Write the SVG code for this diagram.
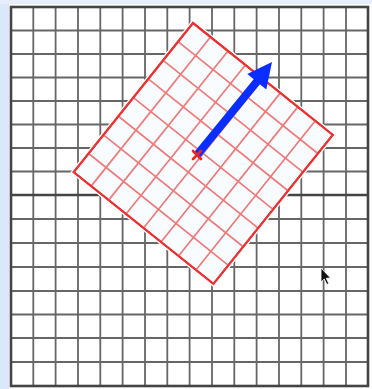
<svg xmlns="http://www.w3.org/2000/svg" width="372" height="389" viewBox="0 0 372 389">
  <style>
    .g { stroke: #666666; stroke-width: 1.8; fill: none; }
    .gb { stroke: #444444; stroke-width: 2.6; fill: none; }
    .r { stroke: #f07a7a; stroke-width: 1.7; fill: none; }
    .rb { stroke: #ee3030; stroke-width: 2; fill: #f9fcfe; }
  </style>
  <rect x="0" y="0" width="372" height="389" fill="#ffffff"/>
  <rect x="0" y="0" width="9" height="389" fill="#dbe7fb"/>
  <rect x="0" y="0" width="372" height="4" fill="#e6eefb"/>
  <g id="background-grid">
    <path class="g" d="M33.3 7V386M55.6 7V386M78 7V386M100.3 7V386M122.6 7V386M145 7V386M167.3 7V386M189.6 7V386M212 7V386M234.3 7V386M256.6 7V386M279 7V386M301.3 7V386M323.6 7V386M346 7V386"/>
    <path class="g" d="M11 30.5H368M11 54H368M11 77.5H368M11 101H368M11 124.5H368M11 148H368M11 171.5H368M11 219H368M11 243H368M11 267H368M11 291H368M11 314.5H368M11 338H368M11 362H368"/>
    <path class="gb" d="M11 195H368"/>
    <rect class="gb" x="11" y="7" width="357" height="379"/>
  </g>
  <g id="rotated-grid" transform="translate(193,23) rotate(38.66)">
    <rect x="0" y="0" width="179" height="191" fill="none" stroke="#ffffff" stroke-width="5"/>
    <rect class="rb" x="0" y="0" width="179" height="191"/>
    <path class="r" d="M22.4 0V191M44.8 0V191M67.1 0V191M89.5 0V191M111.9 0V191M134.3 0V191M156.6 0V191"/>
    <path class="r" d="M0 23.9H179M0 47.8H179M0 71.6H179M0 95.5H179M0 119.4H179M0 143.3H179M0 167.1H179"/>
    <rect x="0" y="0" width="179" height="191" fill="none" stroke="#ee3030" stroke-width="2"/>
  </g>
  <g id="connectors">
    <g id="direction-arrow">
      <line x1="197" y1="155" x2="259" y2="79" stroke="#0a2eff" stroke-width="8"/>
      <polygon points="272,62 266.3,89.5 247.3,74" fill="#0a2eff"/>
    </g>
  </g>
  <g id="center-marker">
    <path d="M193 151L201 159M201 151L193 159" stroke="#ee2222" stroke-width="2.6" stroke-linecap="round"/>
  </g>
  <g id="cursor">
    <polygon points="321,268 321,282 324.3,279 326.8,284.5 328.8,283.6 326.3,278.3 330.5,278" fill="#111111" stroke="#ffffff" stroke-width="0.8"/>
  </g>
</svg>
